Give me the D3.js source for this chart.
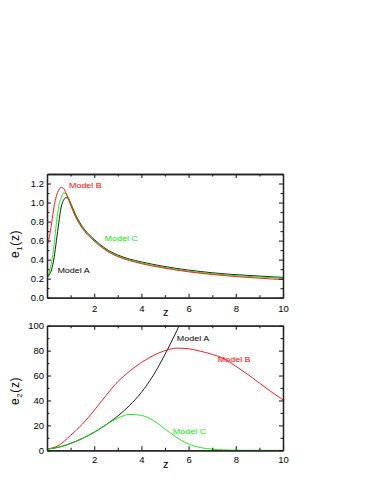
<!DOCTYPE html>
<html>
<head>
<meta charset="utf-8">
<script src="https://cdn.jsdelivr.net/npm/d3@7"></script>
<style>
body { margin: 0; background: #fff; }
text { font-family: "Liberation Sans", Arial, sans-serif; }
</style>
</head>
<body>
<svg id="chart" width="383" height="495"></svg>
<script>
// e1(z), top panel
var zTop = [0, 0.1, 0.2, 0.3, 0.4, 0.5, 0.6, 0.7, 0.8, 0.9, 1.0, 1.2, 1.4, 1.6, 2, 2.5, 3, 3.5, 4, 5, 6, 7, 8, 9, 10]
var modelA_e1 = [0.21, 0.24, 0.30, 0.42, 0.60, 0.79, 0.95, 1.025, 1.052, 1.045, 0.995, 0.878, 0.785, 0.713, 0.613, 0.513, 0.448, 0.406, 0.376, 0.327, 0.290, 0.262, 0.242, 0.227, 0.213]
var modelB_e1 = [0.54, 0.64, 0.79, 0.96, 1.07, 1.13, 1.158, 1.15, 1.10, 1.04, 0.975, 0.855, 0.765, 0.695, 0.595, 0.497, 0.432, 0.390, 0.358, 0.310, 0.272, 0.244, 0.222, 0.205, 0.190]
var modelC_e1 = [0.205, 0.27, 0.38, 0.56, 0.79, 0.96, 1.05, 1.10, 1.095, 1.055, 0.99, 0.868, 0.775, 0.705, 0.605, 0.505, 0.440, 0.398, 0.367, 0.318, 0.280, 0.253, 0.232, 0.217, 0.205]

// e2(z), bottom panel
var zBot = [0, 0.5, 1, 1.5, 2, 2.5, 3, 3.5, 4, 4.5, 5, 5.5, 6, 6.5, 7, 7.5, 8, 8.5, 9, 9.5, 10]
var modelA_e2 = [1, 2.5, 5.5, 9.5, 14.5, 20.5, 27.5, 36, 46.5, 60, 77, 96, 117]
var modelB_e2 = [1, 4, 12, 21, 32, 44, 55, 63.5, 70.5, 76, 80, 82, 81.5, 79.5, 77, 73.5, 67.5, 61, 54, 47, 40.5]
var modelC_e2 = [1, 2.5, 5.5, 9.5, 14.5, 20.5, 25.8, 28.8, 28, 24, 17, 10.3, 5, 2.2, 0.9, 0.3, 0.1, 0, 0, 0, 0]

var xTicks = [2, 4, 6, 8, 10]
var xMinor = [1, 3, 5, 7, 9]
var yTopTicks = [0, 0.2, 0.4, 0.6, 0.8, 1.0, 1.2]
var yTopMinor = [0.1, 0.3, 0.5, 0.7, 0.9, 1.1]
var yBotTicks = [0, 20, 40, 60, 80, 100]
var yBotMinor = [10, 30, 50, 70, 90]

const RED = "#ff0000", GREEN = "#00f000", BLACK = "#000"
const left = 47, right = 283
const svg = d3.select("#chart")

// text in the original is a bit wider than tall
function stretch(sel) {
    sel.each(function () {
        var t = d3.select(this)
        var x = +t.attr("x") || 0, y = +t.attr("y") || 0
        t.attr("x", null).attr("y", null)
            .attr("transform", "translate(" + x + "," + y + ") scale(1.12,1)")
    })
}

function panel(opts) {
    var x = d3.scaleLinear().domain([0, 10]).range([left, right])
    var y = d3.scaleLinear().domain(opts.yDomain).range([opts.bottom, opts.top])
    var g = svg.append("g")
    var id = "clip" + opts.name
    g.append("clipPath").attr("id", id).append("rect")
        .attr("x", left).attr("y", opts.top).attr("width", right - left).attr("height", opts.bottom - opts.top)

    var line = d3.line().curve(d3.curveMonotoneX)
        .x(function (d) { return x(d[0]) })
        .y(function (d) { return y(d[1]) })

    opts.series.forEach(function (s) {
        var pts = s.vals.map(function (v, i) { return [s.z[i], v] })
        g.append("path")
            .attr("clip-path", "url(#" + id + ")")
            .attr("d", line(pts))
            .attr("fill", "none")
            .attr("stroke", s.color)
            .attr("stroke-width", 0.9)
    })

    // major + minor ticks on all four sides, pointing inward
    function ax(axisFn, scale, pos, vals, size, labels, fmt, pad) {
        var a = axisFn(scale).tickValues(vals).tickSizeInner(-size).tickSizeOuter(0).tickPadding(pad || 3)
        a.tickFormat(labels ? fmt : "")
        var gg = g.append("g").attr("transform", pos).call(a)
        gg.select(".domain").attr("stroke", "#222").attr("stroke-width", 1.3)
        gg.selectAll(".tick line").attr("stroke", "#222").attr("stroke-width", 1.1)
        gg.selectAll("text").attr("font-size", 8.5).attr("fill", "#000").attr("font-family", null)
        stretch(gg.selectAll("text"))
        return gg
    }
    var yf = opts.yFormat
    ax(d3.axisBottom, x, "translate(0," + opts.bottom + ")", xTicks, 4, true, d3.format("d"), opts.xPad)
    ax(d3.axisBottom, x, "translate(0," + opts.bottom + ")", xMinor, 2.5, false)
    ax(d3.axisTop, x, "translate(0," + opts.top + ")", xTicks, 4, false)
    ax(d3.axisTop, x, "translate(0," + opts.top + ")", xMinor, 2.5, false)
    ax(d3.axisLeft, y, "translate(" + left + ",0)", opts.yTicks, 4, true, yf, 3)
    ax(d3.axisLeft, y, "translate(" + left + ",0)", opts.yMinor, 2.5, false)
    ax(d3.axisRight, y, "translate(" + right + ",0)", opts.yTicks, 4, false)
    ax(d3.axisRight, y, "translate(" + right + ",0)", opts.yMinor, 2.5, false)

    // x title sits in the tick label row
    g.append("text").attr("x", x(5.03)).attr("y", opts.zBase)
        .attr("text-anchor", "middle").attr("font-size", 11).text("z")

    // y title e_n(z)
    var yt = g.append("text")
        .attr("transform", "translate(18.5," + opts.titleY + ") rotate(-90)")
        .attr("text-anchor", "middle").attr("font-size", 12).attr("letter-spacing", 0.6)
    yt.append("tspan").text("e")
    yt.append("tspan").attr("font-size", 8).attr("dy", 3).text(opts.sub)
    yt.append("tspan").attr("dy", -3).text("(z)")

    opts.notes.forEach(function (n) {
        var t = g.append("text").attr("x", x(n[0])).attr("y", y(n[1]))
            .attr("font-size", 8).attr("fill", n[3]).text(n[2])
        stretch(t)
    })
}

panel({
    name: "top", top: 174, bottom: 297.7, yDomain: [0, 1.3],
    yTicks: yTopTicks, yMinor: yTopMinor, yFormat: d3.format(".1f"),
    xPad: 8.5, zBase: 315.7, titleY: 244, sub: "1",
    series: [
        { z: zTop, vals: modelA_e1, color: BLACK },
        { z: zTop, vals: modelC_e1, color: GREEN },
        { z: zTop, vals: modelB_e1, color: RED }
    ],
    notes: [[0.93, 1.155, "Model B", RED], [2.44, 0.595, "Model C", GREEN], [0.44, 0.256, "Model A", BLACK]]
})

panel({
    name: "bot", top: 325.7, bottom: 450.3, yDomain: [0, 100],
    yTicks: yBotTicks, yMinor: yBotMinor, yFormat: d3.format("d"),
    xPad: 7, zBase: 468.3, titleY: 391, sub: "2",
    series: [
        { z: zBot, vals: modelA_e2, color: BLACK },
        { z: zBot, vals: modelB_e2, color: RED },
        { z: zBot, vals: modelC_e2, color: GREEN }
    ],
    notes: [[5.5, 88, "Model A", BLACK], [7.235, 71.1, "Model B", RED], [5.33, 13.1, "Model C", GREEN]]
})
</script>
</body>
</html>
